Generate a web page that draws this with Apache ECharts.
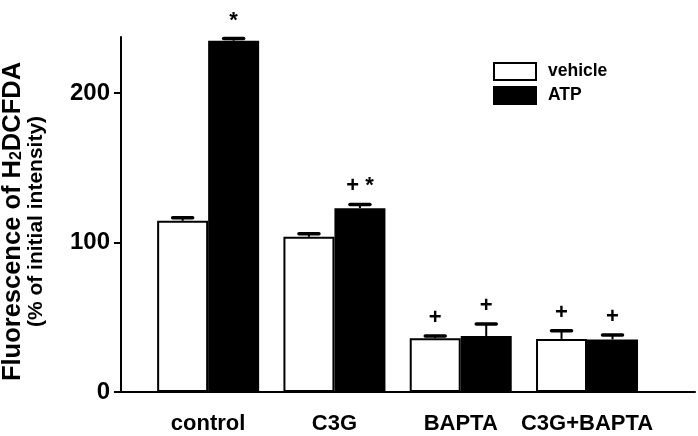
<!DOCTYPE html>
<html>
<head>
<meta charset="utf-8">
<script src="https://cdn.jsdelivr.net/npm/echarts@6/dist/echarts.min.js"></script>
<style>
  html, body { margin: 0; padding: 0; background: #fff; }
  #chart { width: 698px; height: 436px; }
</style>
</head>
<body>
<div id="chart"></div>
<script>
// data
var categories = ['control', 'C3G', 'BAPTA', 'C3G+BAPTA'];
var vehicleMean = [114.5, 103.8, 36, 35.5];
var vehicleErr = [2, 2, 1.5, 5.5];
var atpMean = [235, 123, 37.5, 35.2];
var atpErr = [1.5, 2.5, 8, 3];
var vehicleMarks = ['', '', '+', '+'];
var atpMarks = ['*', '+ *', '+', '+'];
var yTicks = [0, 100, 200];

var barW = 51;
var font = '"Liberation Sans", Arial, sans-serif';

function toPoints(vals) {
  return vals.map(function (v, i) { return [i, v]; });
}

// error bar (upper half only) + significance mark
function errSeries(name, means, errs, marks, side) {
  return {
    type: 'custom',
    name: name + '-err',
    z: 5,
    silent: true,
    data: means.map(function (m, i) { return [i, m, errs[i]]; }),
    renderItem: function (params, api) {
      var i = api.value(0), m = api.value(1), e = api.value(2);
      var base = api.coord([i, m]);
      var top = api.coord([i, m + e]);
      var x = base[0] + side * barW / 2;
      var children = [
        { type: 'line', shape: { x1: x, y1: base[1], x2: x, y2: top[1] }, style: { stroke: '#000', lineWidth: 2 } },
        { type: 'line', shape: { x1: x - 10, y1: top[1], x2: x + 10, y2: top[1] }, style: { stroke: '#000', lineWidth: 3.5, lineCap: 'round' } }
      ];
      if (marks[i]) {
        children.push({
          type: 'text',
          style: { text: marks[i], x: x, y: top[1] - 18, align: 'center', verticalAlign: 'middle', font: 'bold 22px ' + font, fill: '#000' }
        });
      }
      return { type: 'group', children: children };
    }
  };
}

var myChart = echarts.init(document.getElementById('chart'));
myChart.setOption({
  animation: false,
  backgroundColor: '#fff',
  textStyle: { fontFamily: font },
  grid: { left: 121, right: 3, top: 37, bottom: 44, outerBoundsMode: 'none', containLabel: false },
  legend: {
    data: ['vehicle', 'ATP'],
    orient: 'vertical',
    left: 488,
    top: 57,
    icon: 'rect',
    itemWidth: 42,
    itemHeight: 17,
    itemGap: 5,
    textStyle: { fontFamily: font, fontWeight: 'bold', fontSize: 17.5, color: '#000', padding: [0, 0, 0, 7] }
  },
  xAxis: {
    type: 'value',
    min: -0.69,
    max: 3.855,
    splitLine: { show: false },
    axisLine: { onZero: false, lineStyle: { color: '#000', width: 2 } },
    axisTick: { show: false },
    axisLabel: {
      customValues: [0, 1, 2, 3],
      formatter: function (v) { return categories[Math.round(v)]; },
      color: '#000',
      fontWeight: 'bold',
      fontSize: 22,
      margin: 21
    }
  },
  yAxis: {
    type: 'value',
    min: 0,
    max: 237.5,
    splitLine: { show: false },
    axisLine: { show: true, onZero: false, lineStyle: { color: '#000', width: 2 } },
    axisTick: { show: true, customValues: yTicks, length: 7, lineStyle: { color: '#000', width: 2 } },
    axisLabel: { customValues: yTicks, color: '#000', fontWeight: 'bold', fontSize: 24, margin: 11 },
    name: '{a|Fluorescence of H}{s|2}{a|DCFDA}\n{b|(% of initial intensity)}',
    nameLocation: 'middle',
    nameRotate: 90,
    nameGap: 74,
    nameTextStyle: {
      color: '#000',
      align: 'center',
      padding: [0, 14, 0, 0],
      rich: {
        a: { fontFamily: font, fontWeight: 'bold', fontSize: 25.5, lineHeight: 25, color: '#000' },
        s: { fontFamily: font, fontWeight: 'bold', fontSize: 16, lineHeight: 10, verticalAlign: 'bottom', color: '#000' },
        b: { fontFamily: font, fontWeight: 'bold', fontSize: 21, lineHeight: 22, color: '#000' }
      }
    }
  },
  series: [
    {
      name: 'vehicle',
      type: 'bar',
      barWidth: barW,
      barGap: '0%',
      data: toPoints(vehicleMean),
      itemStyle: { color: '#fff', borderColor: '#000', borderWidth: 2 }
    },
    {
      name: 'ATP',
      type: 'bar',
      barWidth: barW,
      barGap: '0%',
      data: toPoints(atpMean),
      itemStyle: { color: '#000', borderColor: '#000', borderWidth: 2 }
    },
    errSeries('vehicle', vehicleMean, vehicleErr, vehicleMarks, -1),
    errSeries('ATP', atpMean, atpErr, atpMarks, 1)
  ]
});
</script>
</body>
</html>
